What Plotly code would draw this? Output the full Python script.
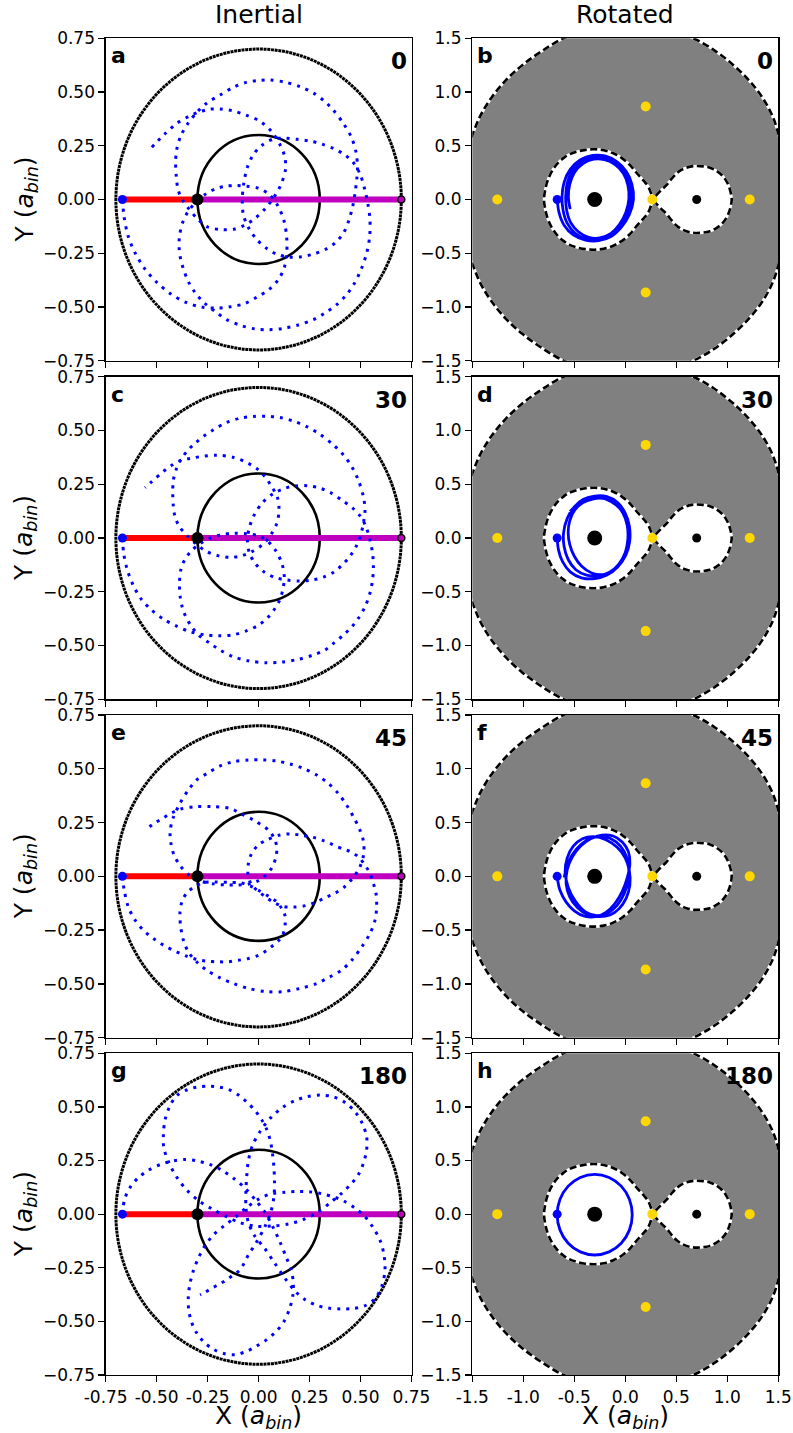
import plotly.graph_objects as go

W, H = 793, 1433
COLS_PX = [(105.7, 411.5), (472.3, 778.3)]
ROWS_PX = [(38.3, 360.7), (376.7, 699.3), (715.0, 1037.7), (1053.3, 1375.0)]
FONT = "DejaVu Sans"

COLUMN_TITLES = ["Inertial", "Rotated"]
PANEL_LETTERS = [["a", "b"], ["c", "d"], ["e", "f"], ["g", "h"]]
INCLINATIONS = ["0", "30", "45", "180"]

IN_TICKS = [-0.75, -0.5, -0.25, 0.0, 0.25, 0.5, 0.75]
IN_XTEXT = ["-0.75", "-0.50", "-0.25", "0.00", "0.25", "0.50", "0.75"]
IN_YTEXT = ["\u22120.75", "\u22120.50", "\u22120.25", "0.00", "0.25", "0.50", "0.75"]
ROT_TICKS = [-1.5, -1.0, -0.5, 0.0, 0.5, 1.0, 1.5]
ROT_XTEXT = ["-1.5", "-1.0", "-0.5", "0.0", "0.5", "1.0", "1.5"]
ROT_YTEXT = ["\u22121.5", "\u22121.0", "\u22120.5", "0.0", "0.5", "1.0", "1.5"]
IN_RANGE = [-0.75, 0.75]
ROT_RANGE = [-1.5, 1.5]

PRIMARY = (-0.3, 0.0)
SECONDARY = (0.7, 0.0)
PLANET_START = (-0.668, 0.0)
PRIMARY_ORBIT_R = 0.3
SECONDARY_ORBIT_R = 0.7
LAGRANGE_X = [0.265, 1.22, -1.255, 0.2, 0.2]
LAGRANGE_Y = [0.0, 0.0, 0.0, 0.866, -0.866]

# zero-velocity (Roche) contours, upper halves
ROCHE_OUTER_UPPER = [(-1.630, 0.000), (-1.615, 0.200), (-1.580, 0.400), (-1.500, 0.600), (-1.420, 0.780),
                     (-1.310, 0.950), (-1.170, 1.110), (-1.010, 1.250), (-0.820, 1.380), (-0.607, 1.500),
                     (-0.400, 1.570), (-0.180, 1.620), (0.030, 1.635), (0.240, 1.620), (0.460, 1.570),
                     (0.667, 1.500), (0.870, 1.390), (1.060, 1.250), (1.220, 1.100), (1.350, 0.940),
                     (1.450, 0.760), (1.510, 0.580), (1.560, 0.400), (1.590, 0.200), (1.600, 0.000)]
ROCHE_LEFT_UPPER = [(0.27, 0.0), (0.255, 0.05), (0.226, 0.119), (0.185, 0.17), (0.144, 0.212),
                    (0.095, 0.265), (0.046, 0.321), (-0.040, 0.390), (-0.118, 0.430), (-0.210, 0.458),
                    (-0.300, 0.467), (-0.390, 0.462), (-0.477, 0.445), (-0.550, 0.420), (-0.607, 0.385),
                    (-0.665, 0.335), (-0.715, 0.270), (-0.760, 0.180), (-0.785, 0.090), (-0.797, 0.0)]
ROCHE_RIGHT_UPPER = [(0.27, 0.0), (0.30, 0.035), (0.35, 0.085), (0.405, 0.135), (0.455, 0.195),
                     (0.504, 0.244), (0.55, 0.275), (0.60, 0.296), (0.65, 0.308), (0.70, 0.312),
                     (0.765, 0.308), (0.83, 0.296), (0.89, 0.268), (0.945, 0.228), (0.985, 0.18),
                     (1.01, 0.135), (1.032, 0.07), (1.043, 0.0)]

ORBIT_INERTIAL_0 = [
    (-0.668, 0.000), (-0.660, -0.080), (-0.640, -0.170), (-0.605, -0.250), (-0.560, -0.320), (-0.500, -0.385),
    (-0.430, -0.440), (-0.356, -0.479), (-0.280, -0.500), (-0.200, -0.505), (-0.137, -0.499), (-0.070, -0.485),
    (-0.010, -0.455), (0.050, -0.420), (0.095, -0.375), (0.125, -0.320), (0.138, -0.250), (0.138, -0.180),
    (0.125, -0.100), (0.095, -0.030), (0.050, 0.025), (0.000, 0.052), (-0.060, 0.062), (-0.110, 0.065),
    (-0.160, 0.062), (-0.210, 0.050), (-0.260, 0.025), (-0.310, -0.015), (-0.345, -0.055), (-0.370, -0.100),
    (-0.388, -0.170), (-0.390, -0.220), (-0.384, -0.270), (-0.370, -0.320), (-0.345, -0.381), (-0.310, -0.435),
    (-0.265, -0.482), (-0.214, -0.520), (-0.157, -0.559), (-0.090, -0.585), (-0.020, -0.602), (0.050, -0.606),
    (0.120, -0.600), (0.190, -0.585), (0.269, -0.559), (0.326, -0.528), (0.383, -0.489), (0.430, -0.445),
    (0.470, -0.390), (0.505, -0.320), (0.530, -0.250), (0.545, -0.170), (0.546, -0.090), (0.536, -0.020),
    (0.520, 0.050), (0.497, 0.120), (0.462, 0.175), (0.420, 0.210), (0.370, 0.236), (0.310, 0.258),
    (0.250, 0.272), (0.190, 0.280), (0.130, 0.285), (0.075, 0.282), (0.020, 0.255), (-0.025, 0.210),
    (-0.055, 0.150), (-0.072, 0.080), (-0.080, 0.000), (-0.075, -0.070), (-0.050, -0.130), (-0.010, -0.185),
    (0.040, -0.228), (0.090, -0.255), (0.150, -0.268), (0.210, -0.266), (0.270, -0.254), (0.330, -0.231),
    (0.380, -0.198), (0.420, -0.150), (0.445, -0.090), (0.462, -0.030), (0.473, 0.030), (0.481, 0.090),
    (0.485, 0.150), (0.478, 0.220), (0.455, 0.290), (0.415, 0.355), (0.367, 0.415), (0.326, 0.455),
    (0.270, 0.495), (0.203, 0.525), (0.130, 0.546), (0.056, 0.556), (0.000, 0.554), (-0.060, 0.545),
    (-0.124, 0.522), (-0.189, 0.486), (-0.255, 0.448), (-0.304, 0.404), (-0.345, 0.356), (-0.380, 0.300),
    (-0.400, 0.240), (-0.407, 0.180), (-0.404, 0.110), (-0.396, 0.050), (-0.378, 0.005), (-0.345, -0.040),
    (-0.300, -0.090), (-0.250, -0.128), (-0.181, -0.140), (-0.120, -0.138), (-0.070, -0.120), (-0.020, -0.090),
    (0.030, -0.045), (0.075, 0.010), (0.110, 0.070), (0.132, 0.140), (0.128, 0.200), (0.105, 0.255),
    (0.060, 0.320), (0.007, 0.364), (-0.060, 0.392), (-0.130, 0.413), (-0.189, 0.421), (-0.240, 0.420),
    (-0.290, 0.408), (-0.340, 0.388), (-0.400, 0.355), (-0.460, 0.305), (-0.532, 0.235)]

ORBIT_INERTIAL_30 = [
    (-0.668, 0.000), (-0.662, -0.070), (-0.645, -0.145), (-0.615, -0.220), (-0.575, -0.285), (-0.525, -0.335),
    (-0.465, -0.378), (-0.402, -0.410), (-0.335, -0.436), (-0.265, -0.450), (-0.195, -0.455), (-0.125, -0.450),
    (-0.060, -0.432), (0.000, -0.405), (0.045, -0.370), (0.080, -0.328), (0.105, -0.285), (0.120, -0.235),
    (0.126, -0.180), (0.115, -0.120), (0.085, -0.060), (0.045, -0.015), (0.000, 0.010), (-0.060, 0.020),
    (-0.120, 0.022), (-0.180, 0.016), (-0.235, 0.000), (-0.285, -0.025), (-0.330, -0.060), (-0.362, -0.100),
    (-0.382, -0.150), (-0.388, -0.210), (-0.385, -0.270), (-0.375, -0.320), (-0.360, -0.360), (-0.330, -0.410),
    (-0.290, -0.455), (-0.238, -0.490), (-0.189, -0.521), (-0.124, -0.552), (-0.050, -0.571), (0.040, -0.580),
    (0.113, -0.577), (0.195, -0.564), (0.268, -0.544), (0.326, -0.521), (0.367, -0.490), (0.416, -0.451),
    (0.457, -0.413), (0.489, -0.374), (0.522, -0.320), (0.546, -0.257), (0.559, -0.195), (0.563, -0.133),
    (0.559, -0.071), (0.546, -0.009), (0.528, 0.050), (0.500, 0.100), (0.460, 0.140), (0.410, 0.175),
    (0.355, 0.210), (0.300, 0.232), (0.240, 0.243), (0.180, 0.242), (0.125, 0.230), (0.070, 0.205),
    (0.020, 0.165), (-0.020, 0.110), (-0.045, 0.050), (-0.055, -0.010), (-0.045, -0.070), (-0.015, -0.120),
    (0.030, -0.160), (0.085, -0.185), (0.138, -0.195), (0.200, -0.200), (0.260, -0.196), (0.318, -0.182),
    (0.370, -0.158), (0.410, -0.125), (0.448, -0.085), (0.478, -0.040), (0.500, 0.010), (0.514, 0.070),
    (0.522, 0.130), (0.514, 0.192), (0.489, 0.270), (0.457, 0.332), (0.416, 0.386), (0.367, 0.433),
    (0.301, 0.482), (0.236, 0.518), (0.170, 0.544), (0.105, 0.560), (0.040, 0.566), (-0.026, 0.565),
    (-0.091, 0.557), (-0.157, 0.537), (-0.222, 0.503), (-0.271, 0.472), (-0.312, 0.440), (-0.345, 0.410),
    (-0.377, 0.371), (-0.402, 0.324), (-0.418, 0.270), (-0.421, 0.208), (-0.418, 0.146), (-0.410, 0.100),
    (-0.390, 0.055), (-0.355, 0.015), (-0.310, -0.025), (-0.260, -0.060), (-0.200, -0.082), (-0.140, -0.090),
    (-0.080, -0.082), (-0.030, -0.062), (0.020, -0.030), (0.060, 0.015), (0.090, 0.070), (0.100, 0.130),
    (0.092, 0.190), (0.064, 0.239), (0.031, 0.285), (-0.010, 0.324), (-0.059, 0.351), (-0.124, 0.375),
    (-0.206, 0.385), (-0.287, 0.378), (-0.335, 0.370), (-0.377, 0.363), (-0.426, 0.338), (-0.467, 0.309),
    (-0.524, 0.262), (-0.557, 0.234)]

ORBIT_INERTIAL_45 = [
    (-0.668, 0.000), (-0.660, -0.060), (-0.640, -0.140), (-0.605, -0.205), (-0.562, -0.253), (-0.516, -0.289),
    (-0.467, -0.320), (-0.402, -0.351), (-0.353, -0.371), (-0.304, -0.386), (-0.255, -0.394), (-0.200, -0.397),
    (-0.148, -0.397), (-0.099, -0.390), (-0.050, -0.382), (0.000, -0.367), (0.040, -0.344), (0.075, -0.318),
    (0.102, -0.295), (0.121, -0.265), (0.130, -0.225), (0.129, -0.180), (0.113, -0.149), (0.089, -0.118),
    (0.048, -0.092), (0.000, -0.065), (-0.040, -0.045), (-0.090, -0.030), (-0.150, -0.028), (-0.210, -0.026),
    (-0.265, -0.028), (-0.310, -0.045), (-0.350, -0.075), (-0.375, -0.115), (-0.386, -0.172), (-0.382, -0.234),
    (-0.369, -0.296), (-0.345, -0.351), (-0.304, -0.397), (-0.255, -0.436), (-0.189, -0.472), (-0.124, -0.498),
    (-0.050, -0.521), (0.040, -0.536), (0.121, -0.536), (0.203, -0.521), (0.285, -0.498), (0.350, -0.467),
    (0.407, -0.436), (0.457, -0.390), (0.506, -0.328), (0.546, -0.266), (0.571, -0.204), (0.579, -0.142),
    (0.576, -0.080), (0.563, -0.033), (0.546, 0.014), (0.522, 0.052), (0.489, 0.091), (0.450, 0.115),
    (0.420, 0.125), (0.367, 0.146), (0.318, 0.166), (0.268, 0.181), (0.203, 0.192), (0.154, 0.197),
    (0.105, 0.192), (0.040, 0.169), (-0.001, 0.146), (-0.034, 0.107), (-0.050, 0.060), (-0.052, 0.010),
    (-0.035, -0.040), (0.000, -0.070), (0.040, -0.100), (0.080, -0.124), (0.120, -0.140), (0.170, -0.143),
    (0.230, -0.136), (0.280, -0.120), (0.330, -0.098), (0.374, -0.079), (0.420, -0.050), (0.460, -0.010),
    (0.495, 0.040), (0.515, 0.100), (0.515, 0.160), (0.497, 0.215), (0.465, 0.277), (0.432, 0.331),
    (0.391, 0.385), (0.342, 0.432), (0.285, 0.471), (0.219, 0.502), (0.154, 0.522), (0.089, 0.536),
    (0.023, 0.541), (-0.050, 0.541), (-0.124, 0.533), (-0.189, 0.513), (-0.250, 0.480), (-0.304, 0.448),
    (-0.345, 0.401), (-0.385, 0.340), (-0.420, 0.270), (-0.434, 0.210), (-0.430, 0.153), (-0.415, 0.100),
    (-0.385, 0.050), (-0.340, 0.005), (-0.285, -0.022), (-0.222, -0.035), (-0.160, -0.040), (-0.100, -0.040),
    (-0.045, -0.035), (0.000, -0.020), (0.035, 0.005), (0.065, 0.040), (0.085, 0.090), (0.089, 0.138),
    (0.075, 0.180), (0.048, 0.215), (-0.026, 0.262), (-0.091, 0.293), (-0.140, 0.316), (-0.230, 0.324),
    (-0.312, 0.324), (-0.385, 0.312), (-0.431, 0.293), (-0.470, 0.270), (-0.513, 0.246), (-0.549, 0.220)]

ORBIT_INERTIAL_180 = [
    (-0.668, 0.000), (-0.657, 0.070), (-0.630, 0.125), (-0.590, 0.170), (-0.540, 0.205), (-0.480, 0.232),
    (-0.420, 0.248), (-0.360, 0.255), (-0.300, 0.248), (-0.240, 0.232), (-0.180, 0.205), (-0.120, 0.165),
    (-0.065, 0.120), (-0.015, 0.065), (0.030, 0.010), (0.070, -0.060), (0.105, -0.130), (0.135, -0.200),
    (0.160, -0.260), (0.170, -0.320), (0.168, -0.380), (0.152, -0.440), (0.125, -0.500), (0.088, -0.545),
    (0.040, -0.585), (-0.010, -0.615), (-0.060, -0.640), (-0.116, -0.655), (-0.170, -0.650), (-0.225, -0.628),
    (-0.270, -0.595), (-0.305, -0.552), (-0.330, -0.500), (-0.343, -0.445), (-0.345, -0.390), (-0.338, -0.330),
    (-0.322, -0.270), (-0.298, -0.210), (-0.265, -0.150), (-0.222, -0.097), (-0.170, -0.055), (-0.115, -0.015),
    (-0.060, 0.030), (0.000, 0.070), (0.060, 0.095), (0.130, 0.102), (0.190, 0.106), (0.250, 0.104),
    (0.310, 0.095), (0.370, 0.080), (0.420, 0.060), (0.470, 0.030), (0.520, -0.010), (0.560, -0.060),
    (0.595, -0.120), (0.615, -0.190), (0.620, -0.260), (0.604, -0.337), (0.570, -0.395), (0.520, -0.428),
    (0.460, -0.440), (0.400, -0.442), (0.342, -0.438), (0.285, -0.425), (0.230, -0.400), (0.180, -0.360),
    (0.130, -0.300), (0.080, -0.230), (0.030, -0.160), (-0.020, -0.100), (-0.050, -0.040), (-0.062, 0.030),
    (-0.062, 0.110), (-0.058, 0.180), (-0.050, 0.250), (-0.030, 0.320), (0.010, 0.390), (0.060, 0.450),
    (0.121, 0.500), (0.180, 0.530), (0.236, 0.547), (0.302, 0.555), (0.367, 0.547), (0.425, 0.520),
    (0.475, 0.475), (0.510, 0.420), (0.530, 0.360), (0.530, 0.300), (0.515, 0.240), (0.490, 0.185),
    (0.457, 0.144), (0.410, 0.100), (0.360, 0.060), (0.293, 0.010), (0.220, -0.025), (0.146, -0.046),
    (0.070, -0.055), (-0.018, -0.056), (-0.090, -0.040), (-0.160, -0.010), (-0.230, 0.025), (-0.290, 0.060),
    (-0.350, 0.110), (-0.400, 0.170), (-0.440, 0.240), (-0.465, 0.310), (-0.467, 0.370), (-0.459, 0.440),
    (-0.435, 0.505), (-0.400, 0.554), (-0.350, 0.580), (-0.304, 0.592), (-0.246, 0.597), (-0.190, 0.592),
    (-0.140, 0.578), (-0.095, 0.553), (-0.058, 0.523), (-0.018, 0.484), (0.015, 0.440), (0.040, 0.395),
    (0.058, 0.340), (0.068, 0.283), (0.075, 0.220), (0.078, 0.150), (0.075, 0.080), (0.060, 0.010),
    (0.030, -0.060), (-0.010, -0.130), (-0.050, -0.190), (-0.091, -0.260), (-0.124, -0.283), (-0.157, -0.306),
    (-0.197, -0.329), (-0.230, -0.345), (-0.263, -0.365), (-0.287, -0.376)]

ORBIT_ROTATED_0 = [
    (-0.667, 0.000), (-0.650, -0.120), (-0.600, -0.240), (-0.510, -0.330), (-0.390, -0.378), (-0.260, -0.383),
    (-0.140, -0.345), (-0.040, -0.260), (0.040, -0.140), (0.080, 0.000), (0.065, 0.140), (0.010, 0.260),
    (-0.080, 0.350), (-0.200, 0.405), (-0.320, 0.410), (-0.440, 0.370), (-0.540, 0.280), (-0.600, 0.160),
    (-0.620, 0.030), (-0.610, -0.100), (-0.570, -0.220), (-0.490, -0.315), (-0.380, -0.368), (-0.255, -0.372),
    (-0.140, -0.330), (-0.050, -0.245), (0.020, -0.130), (0.055, 0.000), (0.045, 0.140), (-0.005, 0.255),
    (-0.090, 0.340), (-0.200, 0.390), (-0.315, 0.395), (-0.430, 0.355), (-0.520, 0.265), (-0.570, 0.150),
    (-0.585, 0.020), (-0.575, -0.100), (-0.535, -0.215), (-0.460, -0.300), (-0.360, -0.352), (-0.250, -0.358),
    (-0.145, -0.318), (-0.060, -0.235), (0.005, -0.120), (0.035, 0.005), (0.025, 0.135), (-0.020, 0.245),
    (-0.100, 0.325), (-0.205, 0.370), (-0.310, 0.375), (-0.415, 0.335), (-0.500, 0.250), (-0.545, 0.140),
    (-0.558, 0.020), (-0.540, -0.090)]

ORBIT_ROTATED_30 = [
    (-0.667, 0.000), (-0.655, -0.110), (-0.615, -0.220), (-0.540, -0.315), (-0.430, -0.370), (-0.300, -0.378),
    (-0.180, -0.345), (-0.075, -0.270), (0.005, -0.160), (0.043, -0.030), (0.040, 0.110), (0.000, 0.230),
    (-0.075, 0.330), (-0.180, 0.385), (-0.300, 0.390), (-0.410, 0.360), (-0.500, 0.290), (-0.570, 0.180),
    (-0.605, 0.050), (-0.600, -0.080), (-0.560, -0.200), (-0.485, -0.295), (-0.380, -0.345), (-0.265, -0.352),
    (-0.155, -0.318), (-0.065, -0.245), (0.000, -0.135), (0.025, -0.010), (0.018, 0.120), (-0.025, 0.235),
    (-0.100, 0.320), (-0.200, 0.365), (-0.310, 0.365), (-0.415, 0.330), (-0.495, 0.260), (-0.545, 0.160),
    (-0.560, 0.050), (-0.545, -0.060), (-0.500, -0.170), (-0.430, -0.260), (-0.330, -0.325), (-0.220, -0.340),
    (-0.120, -0.300), (-0.040, -0.220), (0.010, -0.100), (0.030, 0.030), (0.010, 0.160), (-0.050, 0.270),
    (-0.140, 0.340), (-0.250, 0.375), (-0.360, 0.365), (-0.460, 0.320), (-0.542, 0.245)]

ORBIT_ROTATED_45 = [
    (-0.667, -0.010), (-0.640, -0.130), (-0.580, -0.240), (-0.500, -0.320), (-0.400, -0.370), (-0.290, -0.375),
    (-0.190, -0.335), (-0.100, -0.250), (-0.030, -0.140), (0.020, -0.010), (0.045, 0.120), (0.030, 0.230),
    (-0.030, 0.320), (-0.120, 0.375), (-0.230, 0.384), (-0.340, 0.350), (-0.440, 0.280), (-0.520, 0.180),
    (-0.570, 0.060), (-0.580, -0.070), (-0.545, -0.190), (-0.470, -0.290), (-0.370, -0.355), (-0.260, -0.375),
    (-0.150, -0.360), (-0.060, -0.300), (0.010, -0.200), (0.045, -0.080), (0.040, 0.050), (0.000, 0.170),
    (-0.080, 0.270), (-0.190, 0.340), (-0.310, 0.370), (-0.420, 0.350), (-0.510, 0.280), (-0.570, 0.170),
    (-0.590, 0.040), (-0.560, -0.100), (-0.490, -0.230), (-0.390, -0.330), (-0.280, -0.365), (-0.170, -0.340),
    (-0.080, -0.270), (-0.010, -0.160), (0.030, -0.030), (0.030, 0.110), (-0.010, 0.230), (-0.090, 0.320),
    (-0.200, 0.370), (-0.320, 0.360), (-0.430, 0.300), (-0.520, 0.200), (-0.575, 0.080), (-0.600, -0.010)]

ORBIT_ROTATED_180 = [
    (-0.668, -0.005), (-0.640, -0.149), (-0.560, -0.271), (-0.441, -0.352), (-0.300, -0.381), (-0.159, -0.352),
    (-0.040, -0.271), (0.040, -0.149), (0.068, -0.005), (0.040, 0.139), (-0.040, 0.261), (-0.159, 0.342),
    (-0.300, 0.371), (-0.441, 0.342), (-0.560, 0.261), (-0.640, 0.139), (-0.668, -0.005)]

INERTIAL_ORBITS = [ORBIT_INERTIAL_0, ORBIT_INERTIAL_30, ORBIT_INERTIAL_45, ORBIT_INERTIAL_180]
ROTATED_ORBITS = [ORBIT_ROTATED_0, ORBIT_ROTATED_30, ORBIT_ROTATED_45, ORBIT_ROTATED_180]

BLUE = "#0000FF"
RED = "#FF0000"
MAGENTA = "#BF00BF"
GOLD = "#FFD700"
GREY = "#808080"


def xs(pts):
    return [p[0] for p in pts]


def ys(pts):
    return [p[1] for p in pts]


def closed_contour(upper):
    lower = [(x, -y) for (x, y) in reversed(upper)]
    pts = upper + lower[1:]
    return xs(pts), ys(pts)


def px2paper_x(px):
    return px / W


def px2paper_y(py):
    return 1 - py / H


fig = go.Figure()
layout = dict(template="none", width=W, height=H, autosize=False,
              margin=dict(l=0, r=0, t=0, b=0, pad=0),
              paper_bgcolor="white", plot_bgcolor="white", showlegend=False,
              font=dict(family=FONT, color="black"))
annotations = []
shapes = []


def marker_trace(x, y, color, size, xname, yname, edge=None):
    m = dict(color=color, size=size, opacity=1.0)
    m["line"] = dict(color=edge, width=1.5) if edge else dict(width=0)
    return go.Scatter(x=x, y=y, mode="markers", marker=m, opacity=1.0,
                      xaxis=xname, yaxis=yname, hoverinfo="skip")


for r in range(4):
    for c in range(2):
        k = r * 2 + c + 1
        xname = "x" if k == 1 else f"x{k}"
        yname = "y" if k == 1 else f"y{k}"
        xkey = "xaxis" if k == 1 else f"xaxis{k}"
        ykey = "yaxis" if k == 1 else f"yaxis{k}"
        x0, x1 = COLS_PX[c]
        y0, y1 = ROWS_PX[r]
        inertial = (c == 0)
        ticks = IN_TICKS if inertial else ROT_TICKS
        rng = IN_RANGE if inertial else ROT_RANGE
        common = dict(range=rng, tickvals=ticks, ticks="outside", ticklen=6, tickwidth=1.3,
                      tickcolor="black", showline=True, linecolor="black", linewidth=1.3,
                      mirror=True, showgrid=False, zeroline=False, automargin=False,
                      tickmode="array", tickfont=dict(family=FONT, size=17, color="black"))
        layout[xkey] = dict(common, domain=[px2paper_x(x0), px2paper_x(x1)], anchor=yname,
                            ticktext=IN_XTEXT if inertial else ROT_XTEXT,
                            showticklabels=(r == 3))
        layout[ykey] = dict(common, domain=[px2paper_y(y1), px2paper_y(y0)], anchor=xname,
                            ticktext=IN_YTEXT if inertial else ROT_YTEXT)

        if inertial:
            shapes.append(dict(type="circle", xref=xname, yref=yname, layer="below",
                               x0=-SECONDARY_ORBIT_R, x1=SECONDARY_ORBIT_R,
                               y0=-SECONDARY_ORBIT_R, y1=SECONDARY_ORBIT_R,
                               line=dict(color="black", width=3, dash="3px,0.7px")))
            shapes.append(dict(type="circle", xref=xname, yref=yname, layer="below",
                               x0=-PRIMARY_ORBIT_R, x1=PRIMARY_ORBIT_R,
                               y0=-PRIMARY_ORBIT_R, y1=PRIMARY_ORBIT_R,
                               line=dict(color="black", width=2.6)))
            fig.add_trace(go.Scatter(x=[PLANET_START[0], PRIMARY[0]], y=[PLANET_START[1], PRIMARY[1]],
                                     mode="lines", line=dict(color=RED, width=6),
                                     xaxis=xname, yaxis=yname, hoverinfo="skip"))
            fig.add_trace(go.Scatter(x=[PRIMARY[0], SECONDARY[0]], y=[PRIMARY[1], SECONDARY[1]],
                                     mode="lines", line=dict(color=MAGENTA, width=6),
                                     xaxis=xname, yaxis=yname, hoverinfo="skip"))
            orb = INERTIAL_ORBITS[r]
            fig.add_trace(go.Scatter(x=xs(orb), y=ys(orb), mode="lines",
                                     line=dict(color=BLUE, width=3, dash="3px,6px",
                                               shape="spline", smoothing=0.9),
                                     xaxis=xname, yaxis=yname, hoverinfo="skip"))
            fig.add_trace(marker_trace([SECONDARY[0]], [SECONDARY[1]], MAGENTA, 7, xname, yname, edge="black"))
            fig.add_trace(marker_trace([PRIMARY[0]], [PRIMARY[1]], "black", 12, xname, yname))
            fig.add_trace(marker_trace([PLANET_START[0]], [PLANET_START[1]], BLUE, 9, xname, yname))
        else:
            ox, oy = closed_contour(ROCHE_OUTER_UPPER)
            lx, ly = closed_contour(ROCHE_LEFT_UPPER)
            rx, ry = closed_contour(ROCHE_RIGHT_UPPER)
            fig.add_trace(go.Scatter(x=ox, y=oy, mode="lines", fill="toself", fillcolor=GREY,
                                     line=dict(width=0, color=GREY, shape="spline"),
                                     xaxis=xname, yaxis=yname, hoverinfo="skip"))
            lobes_x = lx + [None] + rx
            lobes_y = ly + [None] + ry
            fig.add_trace(go.Scatter(x=lobes_x, y=lobes_y, mode="lines", fill="toself", fillcolor="white",
                                     line=dict(width=0, color="white", shape="spline"),
                                     xaxis=xname, yaxis=yname, hoverinfo="skip"))
            all_x = ox + [None] + lx + [None] + rx
            all_y = oy + [None] + ly + [None] + ry
            fig.add_trace(go.Scatter(x=all_x, y=all_y, mode="lines",
                                     line=dict(width=2.6, color="white", shape="spline"),
                                     xaxis=xname, yaxis=yname, hoverinfo="skip"))
            fig.add_trace(go.Scatter(x=all_x, y=all_y, mode="lines",
                                     line=dict(width=2.6, color="black", dash="7px,3.5px", shape="spline"),
                                     xaxis=xname, yaxis=yname, hoverinfo="skip"))
            fig.add_trace(marker_trace(LAGRANGE_X, LAGRANGE_Y, GOLD, 10, xname, yname))
            orb = ROTATED_ORBITS[r]
            fig.add_trace(go.Scatter(x=xs(orb), y=ys(orb), mode="lines",
                                     line=dict(color=BLUE, width=2.8, shape="spline", smoothing=1.0),
                                     xaxis=xname, yaxis=yname, hoverinfo="skip"))
            fig.add_trace(marker_trace([PRIMARY[0]], [PRIMARY[1]], "black", 15, xname, yname))
            fig.add_trace(marker_trace([SECONDARY[0]], [SECONDARY[1]], "black", 9, xname, yname))
            fig.add_trace(marker_trace([PLANET_START[0]], [PLANET_START[1]], BLUE, 9, xname, yname))

        annotations.append(dict(text="<b>%s</b>" % PANEL_LETTERS[r][c], xref="paper", yref="paper",
                                x=px2paper_x(x0 + 3), y=px2paper_y(y0 + 3), xanchor="left", yanchor="top",
                                showarrow=False, font=dict(family=FONT, size=22, color="black")))
        annotations.append(dict(text="<b>%s</b>" % INCLINATIONS[r], xref="paper", yref="paper",
                                x=px2paper_x(x1 - 3), y=px2paper_y(y0 + 8), xanchor="right", yanchor="top",
                                showarrow=False, font=dict(family=FONT, size=23, color="black")))

    annotations.append(dict(text="Y (<i>a</i><sub><i>bin</i></sub>)", xref="paper", yref="paper",
                            x=px2paper_x(25), y=px2paper_y((ROWS_PX[r][0] + ROWS_PX[r][1]) / 2),
                            xanchor="center", yanchor="middle", textangle=-90, showarrow=False,
                            font=dict(family=FONT, size=25, color="black")))

for c in range(2):
    cx = (COLS_PX[c][0] + COLS_PX[c][1]) / 2
    annotations.append(dict(text=COLUMN_TITLES[c], xref="paper", yref="paper",
                            x=px2paper_x(cx), y=px2paper_y(14), xanchor="center", yanchor="middle",
                            showarrow=False, font=dict(family=FONT, size=25, color="black")))
    annotations.append(dict(text="X (<i>a</i><sub><i>bin</i></sub>)", xref="paper", yref="paper",
                            x=px2paper_x(cx), y=px2paper_y(1417), xanchor="center", yanchor="middle",
                            showarrow=False, font=dict(family=FONT, size=25, color="black")))

layout["annotations"] = annotations
layout["shapes"] = shapes
fig.update_layout(**layout)
fig.write_html("out.html",
               config={"displayModeBar": False, "staticPlot": True, "responsive": False},
               post_script="document.body.style.margin='0px';document.body.style.padding='0px';"
                           "document.documentElement.style.overflow='hidden';")
